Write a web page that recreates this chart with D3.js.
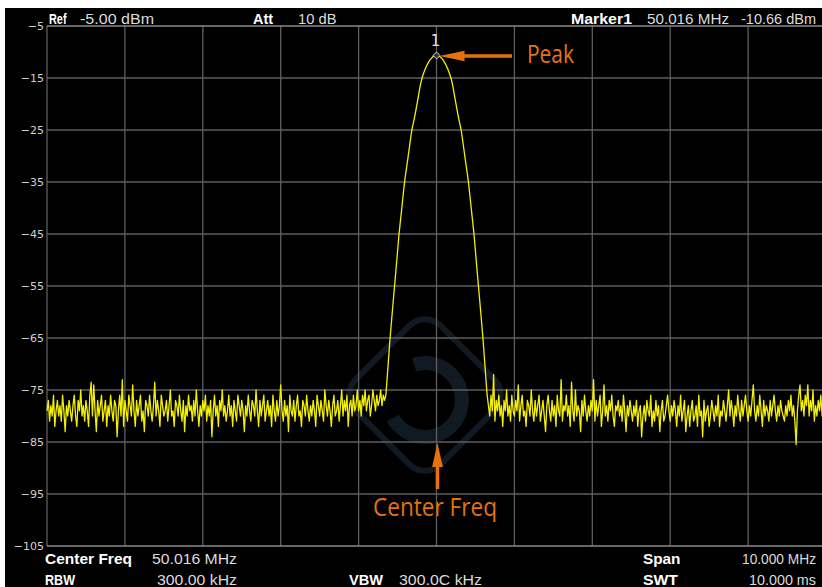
<!DOCTYPE html>
<html><head><meta charset="utf-8">
<script src="https://cdn.jsdelivr.net/npm/d3@7"></script>
<style>body{margin:0;background:#fff}svg{display:block}</style>
</head><body><svg id="c" width="822" height="587"></svg>
<script>
// ---- data ----
const freqSpanMHz = [45.016, 55.016];       // start / stop frequency
const centerFreqMHz = 50.016;
const peakDbm = -10.66;
const yTicks = [-5, -15, -25, -35, -45, -55, -65, -75, -85, -95, -105];
const xDivisionsMHz = [45.016, 46.016, 47.016, 48.016, 49.016, 50.016, 51.016, 52.016, 53.016, 54.016, 55.016];

// trace: 601 sweep points
const noiseLeft = [
-79,-77,-81,-78,-80,-76,-82,-79,-77,-80,-78,-81,-76,-79,-83,-78,-80,-77,-79,-81,
-78,-76,-80,-82,-77,-79,-75,-80,-78,-81,-77,-79,-82,-76,-73.5,-80,-74,-79,-83,-77,
-80,-78,-76,-81,-79,-77,-82,-78,-80,-76,-79,-81,-77,-78,-84,-79,-76,-80,-73,-82,
-77,-79,-81,-76,-78,-80,-74,-79,-82,-77,-80,-78,-76,-81,-79,-83,-77,-78,-80,-76,
-79,-81,-78,-73.5,-80,-77,-79,-82,-76,-78,-80,-79,-77,-81,-78,-75,-80,-79,-82,-77,
-78,-80,-76,-79,-81,-77,-83,-78,-80,-76,-79,-78,-81,-77,-80,-75,-79,-82,-78,-80,
-77,-79,-76,-81,-78,-80,-77,-84,-79,-76,-80,-78,-82,-77,-79,-75,-80,-78,-81,-79,
-76,-80,-78,-82,-77,-79,-81,-76,-78,-80,-77,-79,-83,-78,-80,-76,-79,-81,-77,-78,
-80,-75,-79,-82,-77,-80,-78,-76,-81,-79,-77,-80,-78,-82,-76,-79,-81,-77,-80,-78,
-74,-79,-81,-77,-80,-78,-83,-76,-79,-80,-77,-81,-78,-76,-80,-79,-82,-77,-78,-80,
-76,-79,-81,-78,-80,-77,-79,-82,-76,-78,-80,-77,-79,-81,-75,-78,-80,-77,-79,-82,
-78,-76,-80,-79,-77,-81,-78,-75,-80,-77,-79,-76,-82,-78,-77,-80,-76,-79,-78,-75,
-79,-77,-80,-76,-78,-75,-79,-77,-76,-80,-78,-75,-77,-79,-76,-78,-77,-75,-78,-76,-77];
const peakShape = [
-76.0,-72.66,-69.26,-65.76,-62.76,-59.86,-56.96,-54.16,-51.26,-48.36,-45.36,-42.96,-40.66,-38.26,-35.86,-33.86,-32.16,-30.36,-28.56,-26.76,
-25.00,-23.86,-22.66,-21.36,-19.96,-18.56,-17.16,-15.86,-14.86,-14.14,-13.48,-12.89,-12.37,-11.91,-11.53,-11.22,-10.97,-10.80,-10.69,
-10.66,
-10.69,-10.80,-10.97,-11.22,-11.53,-11.91,-12.37,-12.89,-13.48,-14.14,-14.86,-15.86,-17.16,-18.56,-19.96,-21.36,-22.66,-23.86,-25.00,
-26.76,-28.56,-30.36,-32.16,-33.86,-35.86,-38.26,-40.66,-42.96,-45.36,-48.36,-51.26,-54.16,-56.96,-59.86,-62.76,-65.76,-69.26,-72.66,-76.0];
const noiseRight = [
-78,-80,-76,-79,-72,-81,-77,-79,-76,-80,-78,-82,-77,-79,-75,-80,-78,-81,-76,-79,
-80,-77,-79,-74,-81,-78,-76,-80,-79,-82,-77,-78,-80,-75,-79,-81,-77,-80,-78,-76,
-81,-79,-77,-80,-83,-78,-76,-79,-81,-77,-80,-78,-82,-76,-79,-80,-73,-81,-78,-79,
-76,-80,-78,-82,-73.5,-79,-81,-75,-80,-78,-79,-83,-77,-80,-76,-79,-81,-78,-80,-77,
-79,-73,-81,-77,-80,-78,-76,-82,-79,-74,-80,-78,-81,-77,-79,-76,-80,-82,-78,-79,
-77,-80,-78,-81,-76,-79,-83,-78,-80,-77,-79,-81,-78,-80,-77,-82,-79,-78,-84,-80,
-78,-81,-77,-79,-80,-76,-82,-79,-81,-77,-80,-78,-83,-79,-77,-81,-80,-78,-76,-79,
-81,-78,-80,-77,-79,-82,-78,-80,-76,-81,-79,-77,-83,-80,-78,-82,-79,-77,-81,-80,
-78,-82,-76,-80,-79,-84,-77,-81,-79,-78,-82,-80,-77,-79,-81,-78,-80,-76,-82,-79,
-80,-77,-79,-81,-78,-75,-80,-77,-79,-82,-78,-80,-76,-79,-81,-77,-80,-78,-76,-79,
-81,-78,-80,-77,-74,-79,-81,-78,-80,-76,-79,-82,-77,-80,-78,-79,-81,-77,-80,-78,
-76,-79,-81,-78,-80,-77,-79,-80,-81,-78,-80,-77,-79,-76,-80,-78,-81,-85.5,-79,-76,
-74,-79,-77,-80,-76,-78,-74,-80,-77,-79,-75,-81,-78,-80,-77,-79,-76,-80,-78,-77,-79];

const headerItems = [
  {text: "Ref", bold: true, x: 49, w: 17.5},
  {text: "-5.00 dBm", bold: false, x: 80, w: 74},
  {text: "Att", bold: true, x: 253, w: 20},
  {text: "10 dB", bold: false, x: 298, w: 38.5},
  {text: "Marker1", bold: true, x: 571, w: 61},
  {text: "50.016 MHz", bold: false, x: 647, w: 82},
  {text: "-10.66 dBm", bold: false, x: 741, w: 75}
];
const footerRow1 = [
  {text: "Center Freq", bold: true, x: 45, w: 87},
  {text: "50.016 MHz", bold: false, x: 152, w: 85},
  {text: "Span", bold: true, x: 643, w: 37.5},
  {text: "10.000 MHz", bold: false, x: 742, w: 74}
];
const footerRow2 = [
  {text: "RBW", bold: true, x: 45, w: 30},
  {text: "300.00 kHz", bold: false, x: 157, w: 80},
  {text: "VBW", bold: true, x: 349, w: 34},
  {text: "300.0C kHz", bold: false, x: 399, w: 83},
  {text: "SWT", bold: true, x: 643, w: 35},
  {text: "10.000 ms", bold: false, x: 749, w: 67}
];

// ---- chart ----
const W = 822, H = 587;
const svg = d3.select("#c");
const x = d3.scaleLinear().domain(freqSpanMHz).range([47, 826]);
const y = d3.scaleLinear().domain([-105, -5]).range([546, 26]);

svg.append("rect").attr("x", 0).attr("y", 0).attr("width", W).attr("height", H).attr("fill", "#fff");
svg.append("rect").attr("x", 5).attr("y", 8).attr("width", W - 5).attr("height", H - 8).attr("fill", "#000");

// faint logo watermark
svg.append("rect").attr("x", -60).attr("y", -60).attr("width", 120).attr("height", 120).attr("rx", 22)
  .attr("transform", "translate(425,395) rotate(45)").attr("fill", "none").attr("stroke", "#111a23").attr("stroke-width", 6);
svg.append("path").attr("d", d3.arc()({innerRadius: 30, outerRadius: 44, startAngle: -0.3, endAngle: 4.2}))
  .attr("transform", "translate(425,400)").attr("fill", "#111a23");

// grid
const g = svg.append("g");
g.selectAll("line.v").data(xDivisionsMHz).join("line")
  .attr("x1", d => x(d)).attr("x2", d => x(d)).attr("y1", y(-5)).attr("y2", y(-105))
  .attr("stroke", "#5e5e5e").attr("stroke-width", 1.3);
g.selectAll("line.h").data(yTicks).join("line")
  .attr("x1", x(freqSpanMHz[0])).attr("x2", W).attr("y1", d => y(d)).attr("y2", d => y(d))
  .attr("stroke", d => (d === -5 || d === -105) ? "#8a8a8a" : "#5e5e5e").attr("stroke-width", 1.3);

// y axis labels
const ax = svg.append("g").attr("transform", `translate(${x(freqSpanMHz[0]) - 2},0)`)
  .call(d3.axisLeft(y).tickValues(yTicks).tickSize(0).tickPadding(1).tickFormat(d3.format("d")));
ax.select(".domain").remove();
ax.selectAll("text").attr("fill", "#d0d0d0").style("font-family", "'DejaVu Sans'").style("font-size", "11px");

// trace
const trace = noiseLeft.concat(peakShape, noiseRight);
const step = (freqSpanMHz[1] - freqSpanMHz[0]) / (trace.length - 1);
svg.append("path").datum(trace)
  .attr("d", d3.line().x((d, i) => x(freqSpanMHz[0] + i * step)).y(d => y(d)))
  .attr("fill", "none").attr("stroke", "#f4f000").attr("stroke-width", 1.3).attr("stroke-linejoin", "round");

// marker
const mx = x(centerFreqMHz), my = y(peakDbm);
svg.append("path").attr("d", `M${mx},${my - 3.5} L${mx + 3.5},${my} L${mx},${my + 3.5} L${mx - 3.5},${my} Z`)
  .attr("fill", "#333").attr("stroke", "#d8d8d8").attr("stroke-width", 1);
svg.append("text").attr("x", mx - 1).attr("y", my - 9.5).attr("text-anchor", "middle")
  .attr("fill", "#e0e0e0").style("font-family", "'DejaVu Sans'").style("font-size", "15px").text("1");

// header / footer texts
function addTexts(items, baseline) {
  svg.append("g").selectAll("text").data(items).join("text")
    .attr("x", d => d.x).attr("y", baseline)
    .attr("textLength", d => d.w).attr("lengthAdjust", "spacingAndGlyphs")
    .attr("fill", d => d.bold ? "#ffffff" : "#dcdcdc")
    .style("font-family", "'Liberation Sans'").style("font-size", "15px")
    .style("font-weight", d => d.bold ? "bold" : "normal")
    .text(d => d.text);
}
addTexts(headerItems, 23.5);
addTexts(footerRow1, 564);
addTexts(footerRow2, 584.5);

// annotations
const orange = "#e5720f";
svg.append("line").attr("x1", 512).attr("x2", mx + 22).attr("y1", my + 0.6).attr("y2", my + 0.6)
  .attr("stroke", orange).attr("stroke-width", 3.5);
svg.append("path").attr("d", `M${mx + 3},${my + 0.6} L${mx + 28},${my - 4.6} L${mx + 28},${my + 5.8} Z`).attr("fill", orange);
svg.append("text").attr("x", 527).attr("y", 63).attr("textLength", 47).attr("lengthAdjust", "spacingAndGlyphs")
  .attr("fill", orange).style("font-family", "'Open Sans'").style("font-size", "25px").text("Peak");

const cy = y(-85);
svg.append("line").attr("x1", mx + 1).attr("x2", mx + 1).attr("y1", 489).attr("y2", cy + 20)
  .attr("stroke", orange).attr("stroke-width", 3.5);
svg.append("path").attr("d", `M${mx + 1},${cy + 1} L${mx - 4.4},${cy + 25} L${mx + 6.4},${cy + 25} Z`).attr("fill", orange);
svg.append("text").attr("x", 373).attr("y", 516).attr("textLength", 124).attr("lengthAdjust", "spacingAndGlyphs")
  .attr("fill", orange).style("font-family", "'Open Sans'").style("font-size", "25px").text("Center Freq");
</script></body></html>
